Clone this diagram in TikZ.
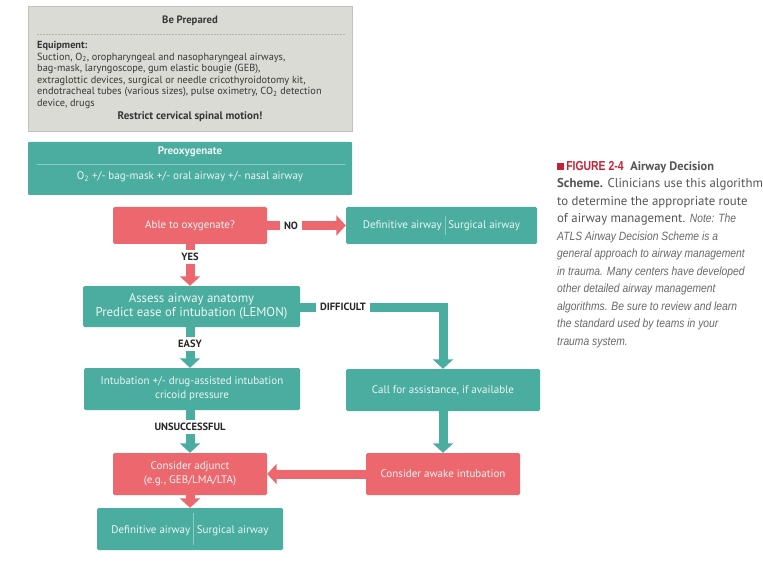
\documentclass[tikz,border=0pt]{standalone}
\usepackage{fontspec}
\setmainfont{PT Sans}
\newfontfamily\capfont{PT Sans}
\newfontfamily\capit[FakeStretch=0.86]{Liberation Sans}
\newfontfamily\capcond[FakeStretch=0.8]{Liberation Sans}
\usetikzlibrary{arrows.meta}
\definecolor{myteal}{RGB}{74,173,160}
\definecolor{myred}{RGB}{236,104,110}
\definecolor{prepfill}{RGB}{218,219,213}
\definecolor{prepdraw}{RGB}{192,194,189}
\definecolor{preptext}{RGB}{55,55,55}
\definecolor{boxtext}{RGB}{236,246,244}
\definecolor{divcol}{RGB}{140,205,196}
\definecolor{figred}{RGB}{200,32,52}
\definecolor{capgray}{RGB}{85,85,85}
\definecolor{capitgray}{RGB}{105,105,105}
\begin{document}
\begin{tikzpicture}[x=1pt,y=-1pt,
  box/.style={rectangle, rounded corners=1.5pt, inner sep=2pt, align=center,
    font=\fontsize{11}{14}\selectfont, text=boxtext},
  tbox/.style={box, fill=myteal},
  rbox/.style={box, fill=myred},
  lbl/.style={font=\bfseries\fontsize{10.5}{12}\selectfont, text=black!85, inner xsep=4pt, inner ysep=3pt},
  tarr/.style={draw=myteal, line width=9pt},
  rarr/.style={draw=myred, line width=9pt},
  headtip/.style={-{Triangle[width=20pt,length=9.5pt]}}]
\useasboundingbox[fill=white] (0,0) rectangle (763,564);

% Be prepared box
\node[rectangle, fill=prepfill, draw=prepdraw, line width=0.8pt, minimum width=324pt, minimum height=125pt, inner sep=0] (prep) at (190,68.5) {};
\node[font=\bfseries\fontsize{10.7}{12}\selectfont, text=preptext] (bp) at (190,21) {Be Prepared};
\draw[prepdraw!80!gray, dashed, dash pattern=on 2pt off 1pt, line width=0.6pt] (37,34) -- (345,34);
\node[anchor=north west, align=left, inner sep=0, font=\fontsize{10.3}{11.6}\selectfont, text=preptext] (eq) at (37,41)
  {\textbf{Equipment:}\\
   Suction, O\textsubscript{2}, oropharyngeal and nasopharyngeal airways,\\
   bag-mask, laryngoscope, gum elastic bougie (GEB),\\
   extraglottic devices, surgical or needle cricothyroidotomy kit,\\
   endotracheal tubes (various sizes), pulse oximetry, CO\textsubscript{2} detection\\
   device, drugs};
\node[font=\bfseries\fontsize{11}{12}\selectfont, text=preptext] (rcs) at (190,117) {Restrict cervical spinal motion!};

% Preoxygenate box
\node[tbox, minimum width=324pt, minimum height=53pt, rounded corners=1pt] (preox) at (190,168.5) {};
\node[font=\bfseries\fontsize{11}{12}\selectfont, text=boxtext] (pt) at (190,152) {Preoxygenate};
\draw[divcol, line width=0.6pt] (37,164) -- (345,164);
\node[font=\fontsize{11}{12}\selectfont, text=boxtext] (pl) at (190,177) {O\textsubscript{2} +/- bag-mask +/- oral airway +/- nasal airway};

% Flow boxes
\node[rbox, minimum width=154pt, minimum height=37pt] (able) at (190,225.5) {Able to oxygenate?};
\node[tbox, minimum width=191pt, minimum height=37pt] (def1) at (441.5,225.5)
  {Definitive airway\hspace{3pt}\textcolor{divcol}{\rule[-6pt]{0.5pt}{19pt}}\hspace{3pt}Surgical airway};
\node[tbox, minimum width=217pt, minimum height=41pt, font=\fontsize{12.8}{13.5}\selectfont] (assess) at (191.5,306.5)
  {Assess airway anatomy\\Predict ease of intubation (LEMON)};
\node[tbox, minimum width=216pt, minimum height=42pt] (intub) at (192,389)
  {Intubation +/- drug-assisted intubation\\cricoid pressure};
\node[tbox, minimum width=194pt, minimum height=42pt] (call) at (443,390) {Call for assistance, if available};
\node[rbox, minimum width=154pt, minimum height=42pt] (adj) at (190,474) {Consider adjunct\\(e.g., GEB/LMA/LTA)};
\node[rbox, minimum width=154pt, minimum height=42pt] (awake) at (443,474) {Consider awake intubation};
\node[tbox, minimum width=186pt, minimum height=42pt] (def2) at (190,529)
  {Definitive airway\hspace{3pt}\textcolor{divcol}{\rule[-12pt]{0.5pt}{32pt}}\hspace{3pt}Surgical airway};

% Labels
\node[lbl] (no) at (291,225.5) {NO};
\node[lbl] (yes) at (190,257) {YES};
\node[lbl] (diff) at (343,307) {DIFFICULT};
\node[lbl] (easy) at (190,344) {EASY};
\node[lbl] (uns) at (190,427) {UNSUCCESSFUL};

% Connectors
\draw[rarr] (able.east) -- (no.west);
\draw[rarr, headtip] (no.east) -- (def1.west);
\draw[rarr] (able.south) -- (yes.north);
\draw[rarr, headtip] (yes.south) -- (yes.south |- assess.north);
\draw[tarr] (assess.east |- diff) -- (diff.west);
\draw[tarr, headtip] (diff.east) -| (call.north);
\draw[tarr] (easy.north |- assess.south) -- (easy.north);
\draw[tarr, headtip] (easy.south) -- (easy.south |- intub.north);
\draw[tarr] (uns.north |- intub.south) -- (uns.north);
\draw[tarr, headtip] (uns.south) -- (adj.north);
\draw[tarr, headtip] (call.south) -- (awake.north);
\draw[rarr, headtip] (awake.west) -- (adj.east);
\draw[rarr, headtip] (adj.south) -- (def2.north);

% Caption
\node[anchor=north west, align=left, inner sep=0, text=capgray,
  font=\capfont\fontsize{12.8}{17.5}\selectfont] (cap) at (557,161)
  {\textcolor{figred}{\rule{7pt}{7pt}\,{\capcond\bfseries\fontsize{13}{17.5}\selectfont FIGURE 2-4}}\ \ {\fontsize{12.3}{17.5}\selectfont\bfseries Airway Decision}\\
   \textbf{Scheme.} Clinicians use this algorithm\\
   to determine the appropriate route\\
   of airway management. {\capit\itshape\fontsize{12}{17.5}\selectfont\color{capitgray}Note: The}\\
   {\capit\itshape\fontsize{12}{17.5}\selectfont\color{capitgray}ATLS Airway Decision Scheme is a}\\
   {\capit\itshape\fontsize{12}{17.5}\selectfont\color{capitgray}general approach to airway management}\\
   {\capit\itshape\fontsize{12}{17.5}\selectfont\color{capitgray}in trauma. Many centers have developed}\\
   {\capit\itshape\fontsize{12}{17.5}\selectfont\color{capitgray}other detailed airway management}\\
   {\capit\itshape\fontsize{12}{17.5}\selectfont\color{capitgray}algorithms. Be sure to review and learn}\\
   {\capit\itshape\fontsize{12}{17.5}\selectfont\color{capitgray}the standard used by teams in your}\\
   {\capit\itshape\fontsize{12}{17.5}\selectfont\color{capitgray}trauma system.}};
\end{tikzpicture}
\end{document}
